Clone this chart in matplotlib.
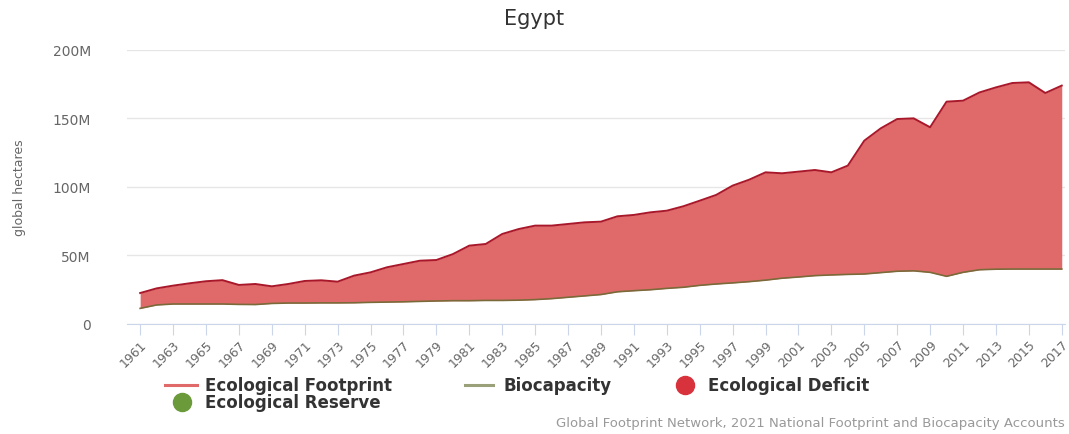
import matplotlib.pyplot as plt
from matplotlib.lines import Line2D
import numpy as np

# years 1961..2017
years = list(range(1961, 2018))

# Ecological Footprint (million gha)
footprint = [22.6, 26.0, 28.0, 29.7, 31.2, 32.0, 28.5, 29.2, 27.5, 29.2,
             31.4, 31.9, 30.9, 35.3, 37.7, 41.4, 43.8, 46.2, 46.7, 51.0,
             57.2, 58.4, 65.7, 69.3, 71.8, 71.8, 73.0, 74.2, 74.7, 78.6,
             79.6, 81.5, 82.7, 85.9, 90.0, 94.2, 101.0, 105.3, 110.7, 110.0,
             111.2, 112.4, 110.7, 115.6, 133.8, 142.8, 149.6, 150.1, 143.6, 162.3,
             163.0, 169.0, 172.7, 175.9, 176.4, 168.6, 174.0]

# Biocapacity (million gha)
biocapacity = [11.4, 13.9, 14.6, 14.6, 14.6, 14.6, 14.3, 14.2, 15.0, 15.3,
               15.3, 15.4, 15.4, 15.5, 15.8, 16.0, 16.2, 16.5, 16.8, 17.0,
               17.0, 17.2, 17.2, 17.4, 17.8, 18.5, 19.5, 20.5, 21.5, 23.5,
               24.3, 25.0, 26.0, 26.8, 28.2, 29.2, 30.0, 30.9, 32.0, 33.4,
               34.3, 35.3, 35.8, 36.2, 36.5, 37.5, 38.5, 38.8, 37.7, 34.8,
               37.7, 39.6, 40.0, 40.1, 40.1, 40.1, 40.1]

x = np.array(years)
fp = np.array(footprint) * 1e6
bc = np.array(biocapacity) * 1e6

fig = plt.figure(figsize=(10.69, 4.35), dpi=100)
ax = fig.add_axes([0.1188, 0.2529, 0.8775, 0.6299])

# deficit / reserve areas
ax.fill_between(x, bc, fp, where=fp >= bc, color='#e06a6a', interpolate=True, lw=0)
ax.fill_between(x, bc, fp, where=fp < bc, color='#6a9a3a', interpolate=True, lw=0)
ax.plot(x, fp, color='#a8182a', lw=1.4)
ax.plot(x, bc, color='#7a6a3a', lw=1.2)

ax.set_xlim(1960.2, 2017.2)
ax.set_ylim(0, 200e6)
ax.set_yticks([0, 50e6, 100e6, 150e6, 200e6])
ax.set_yticklabels(['0', '50M', '100M', '150M', '200M'])
ax.set_xticks(years[::2])
ax.set_xticklabels([str(y) for y in years[::2]], rotation=45, ha='right',
                   rotation_mode='anchor')

ax.grid(axis='y', color='#e6e6e6', lw=1)
ax.set_axisbelow(True)
for s in ['top', 'right', 'left']:
    ax.spines[s].set_visible(False)
ax.spines['bottom'].set_color('#ccd6eb')
ax.tick_params(axis='y', length=0, pad=26, labelsize=10, labelcolor='#666666')
ax.tick_params(axis='x', length=8, color='#ccd6eb', labelsize=9,
               labelcolor='#666666', pad=2)

ax.set_ylabel('global hectares', fontsize=9, color='#666666')
ax.yaxis.set_label_coords(-0.108, 0.5)

fig.text(0.50, 0.957, 'Egypt', ha='center', va='center', fontsize=15,
         color='#333333')

# legend, laid out like the original (two rows)
row1, row2 = 0.113, 0.074
leg_font = dict(fontsize=12, fontweight='bold', color='#333333', va='center')
fig.add_artist(Line2D([0.154, 0.184], [row1, row1], color='#e06a6a', lw=2.2,
                      transform=fig.transFigure))
fig.text(0.192, row1, 'Ecological Footprint', **leg_font)
fig.add_artist(Line2D([0.435, 0.461], [row1, row1], color='#9aa07a', lw=2.2,
                      transform=fig.transFigure))
fig.text(0.471, row1, 'Biocapacity', **leg_font)
fig.add_artist(Line2D([0.641], [row1], marker='o', ls='', color='#d8323c',
                      markersize=13, transform=fig.transFigure))
fig.text(0.662, row1, 'Ecological Deficit', **leg_font)
fig.add_artist(Line2D([0.170], [row2], marker='o', ls='', color='#6a9a3a',
                      markersize=13, transform=fig.transFigure))
fig.text(0.192, row2, 'Ecological Reserve', **leg_font)

fig.text(0.996, 0.027, 'Global Footprint Network, 2021 National Footprint and Biocapacity Accounts',
         ha='right', va='center', fontsize=9.5, color='#999999')

fig.savefig('out.png', dpi=100)
